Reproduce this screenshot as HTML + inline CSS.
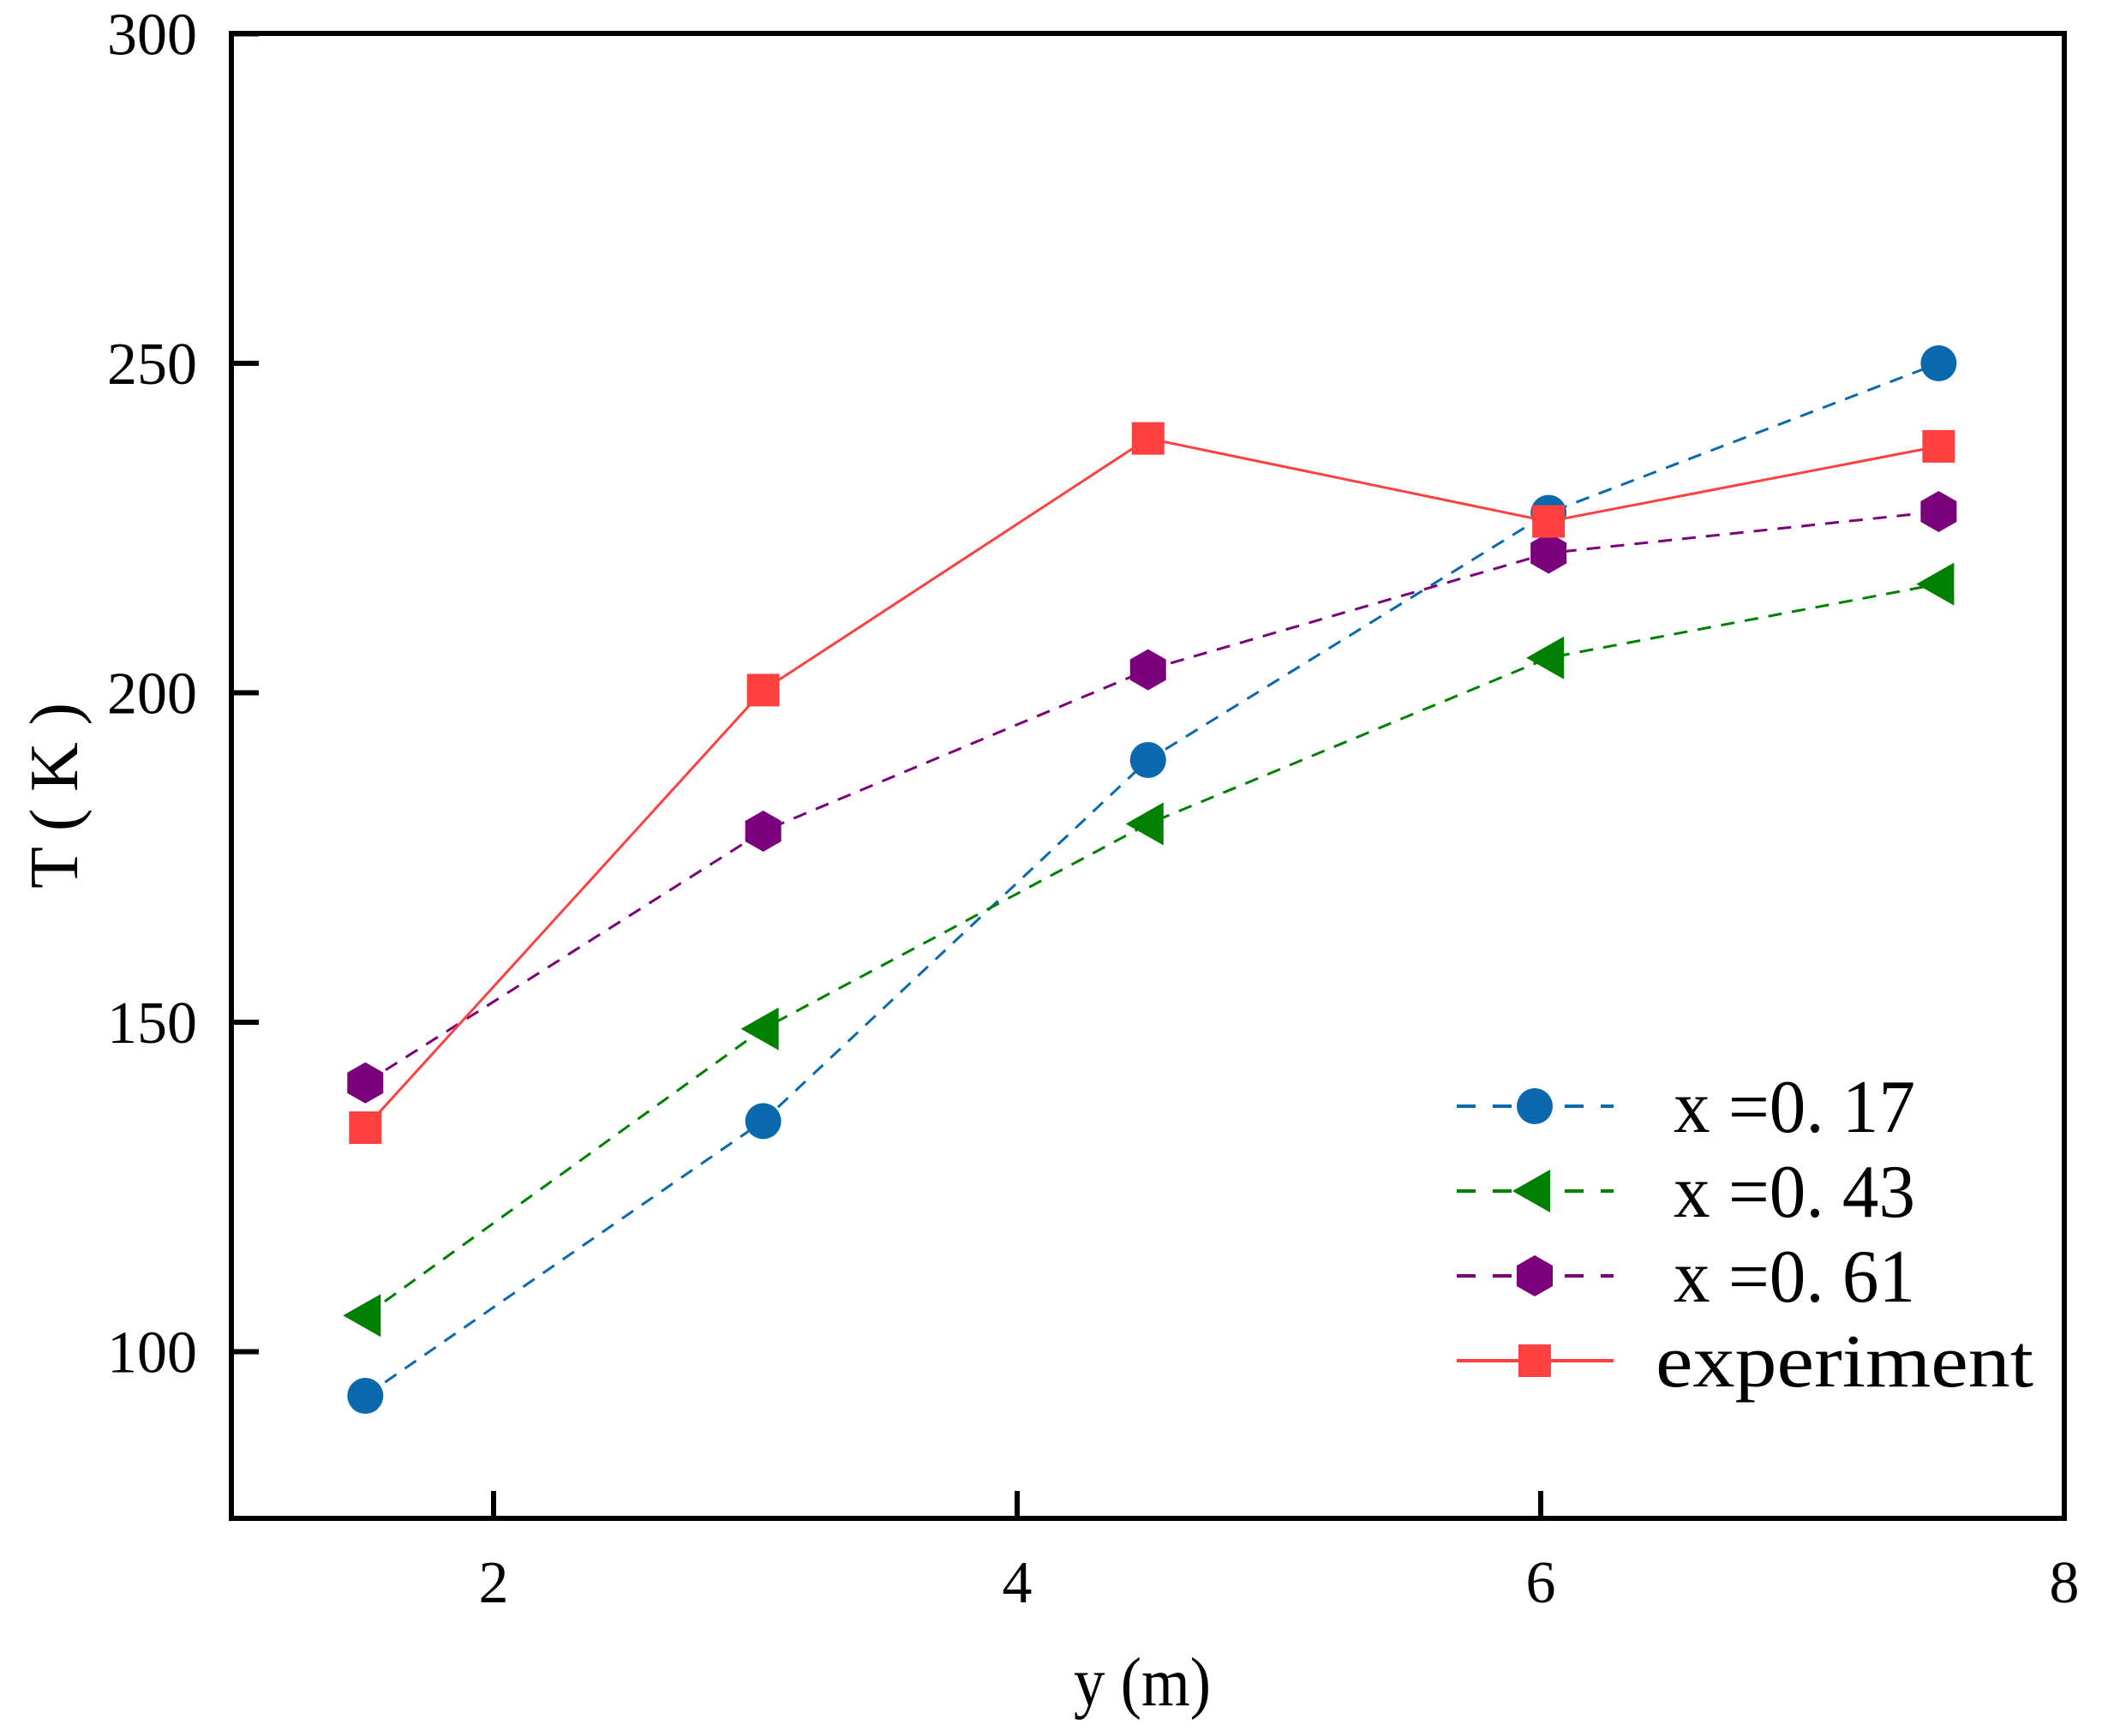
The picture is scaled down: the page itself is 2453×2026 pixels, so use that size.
<!DOCTYPE html>
<html><head><meta charset="utf-8"><style>
html,body{margin:0;padding:0;background:#fff}
svg text{font-family:"Liberation Serif","Noto Serif CJK SC",serif;fill:#000}
</style></head><body>
<svg id="chart" width="2453" height="2021" viewBox="0 0 2453 2021" xmlns="http://www.w3.org/2000/svg">
<g id="plot"></g>
</svg>
<script>
const xValues = [1.51, 3.03, 4.5, 6.03, 7.52];
const s017 = [93.3, 135, 189.8, 227.3, 250];
const s043 = [105.5, 149, 180.1, 205.3, 216.5];
const s061 = [140.8, 179, 203.5, 221.2, 227.5];
const sExp = [134, 200.4, 238.6, 226, 237.4];
const xTicks = [2, 4, 6, 8];
const yTicks = [100, 150, 200, 250, 300];
const legendLabels = ["x =0. 17", "x =0. 43", "x =0. 61", "experiment"];

const NS = "http://www.w3.org/2000/svg";
const L = 270, R = 2409, T = 39, B = 1772;
function xs(v){ return 1187 + (v - 4) * 305.5; }
function ys(v){ return 424 + (250 - v) * 7.69; }
const g = document.getElementById('plot');
function el(tag, attrs, parent){
  const e = document.createElementNS(NS, tag);
  for (const k in attrs) e.setAttribute(k, attrs[k]);
  (parent || g).appendChild(e);
  return e;
}

const frame = el('rect', {x:L, y:T, width:R-L, height:B-T, fill:'none', stroke:'#000', 'stroke-width':6});



xTicks.forEach(t => {
  const x = xs(t);
  const tk = el('line', {x1:x, x2:x, y1:B, y2:B-32, stroke:'#000', 'stroke-width':6});
  
  
  const tx = el('text', {x:x, y:1870, 'font-size':70, 'text-anchor':'middle'});
  tx.textContent = t;
  
  
});
yTicks.forEach(t => {
  const y = ys(t);
  const tk = el('line', {x1:L, x2:L+32, y1:y, y2:y, stroke:'#000', 'stroke-width':6});
  
  
  const tx = el('text', {x:230, y:y+24, 'font-size':70, 'text-anchor':'end'});
  tx.textContent = t;
  
  
});
const xt = el('text', {x:1253, y:1990, 'font-size':80, textLength:160, lengthAdjust:'spacingAndGlyphs'});
xt.textContent = 'y (m)';


const yt = el('text', {x:0, y:0, 'font-size':80, textLength:217, lengthAdjust:'spacing', transform:'translate(90,1037) rotate(-90)'});
yt.textContent = 'T ( K )';



function marker(kind, cx, cy, color, parent){
  let m;
  if (kind === 'circle') m = el('circle', {cx:cx, cy:cy, r:21, fill:color}, parent);
  else if (kind === 'tri') m = el('polygon', {points:`${cx-26},${cy} ${cx+18},${cy-25} ${cx+18},${cy+25}`, fill:color}, parent);
  else if (kind === 'hex') m = el('polygon', {points:`${cx},${cy-24} ${cx+21},${cy-12} ${cx+21},${cy+12} ${cx},${cy+24} ${cx-21},${cy+12} ${cx-21},${cy-12}`, fill:color}, parent);
  else m = el('rect', {x:cx-19, y:cy-19, width:38, height:38, fill:color}, parent);
  return m;
}
const series = [
  {name:'series-x-017', vals:s017, color:'#0a69ad', kind:'circle', dash:'16,12'},
  {name:'series-x-043', vals:s043, color:'#008000', kind:'tri', dash:'16,12'},
  {name:'series-x-061', vals:s061, color:'#7b007b', kind:'hex', dash:'16,12'},
  {name:'series-experiment', vals:sExp, color:'#ff4040', kind:'square', dash:'none'}
];
series.forEach((s, i) => {
  const grp = el('g', {});
  
  
  const pts = s.vals.map((v, j) => xs(xValues[j]) + ',' + ys(v)).join(' ');
  const pl = el('polyline', {points:pts, fill:'none', stroke:s.color, 'stroke-width':3, 'stroke-dasharray':s.dash}, grp);
  
  
  s.vals.forEach((v, j) => {
    const m = marker(s.kind, xs(xValues[j]), ys(v), s.color, grp);
    
    
  });
  const ly = 1291 + i * 99;
  const lg = el('g', {});
  
  
  const ll = el('line', {x1:1700, x2:1883, y1:ly, y2:ly, stroke:s.color, 'stroke-width':4, 'stroke-dasharray': s.dash === 'none' ? 'none' : '22,20'}, lg);
  
  
  const lm = marker(s.kind, 1791, ly, s.color, lg);
  
  
  const isExp = i === 3;
  const lt = el('text', {x: isExp ? 1932 : 1953, y: ly + 30, 'font-size':88, textLength: isExp ? 441 : 282, lengthAdjust:'spacingAndGlyphs'}, lg);
  lt.textContent = legendLabels[i];
  
  
});
</script>
</body></html>
